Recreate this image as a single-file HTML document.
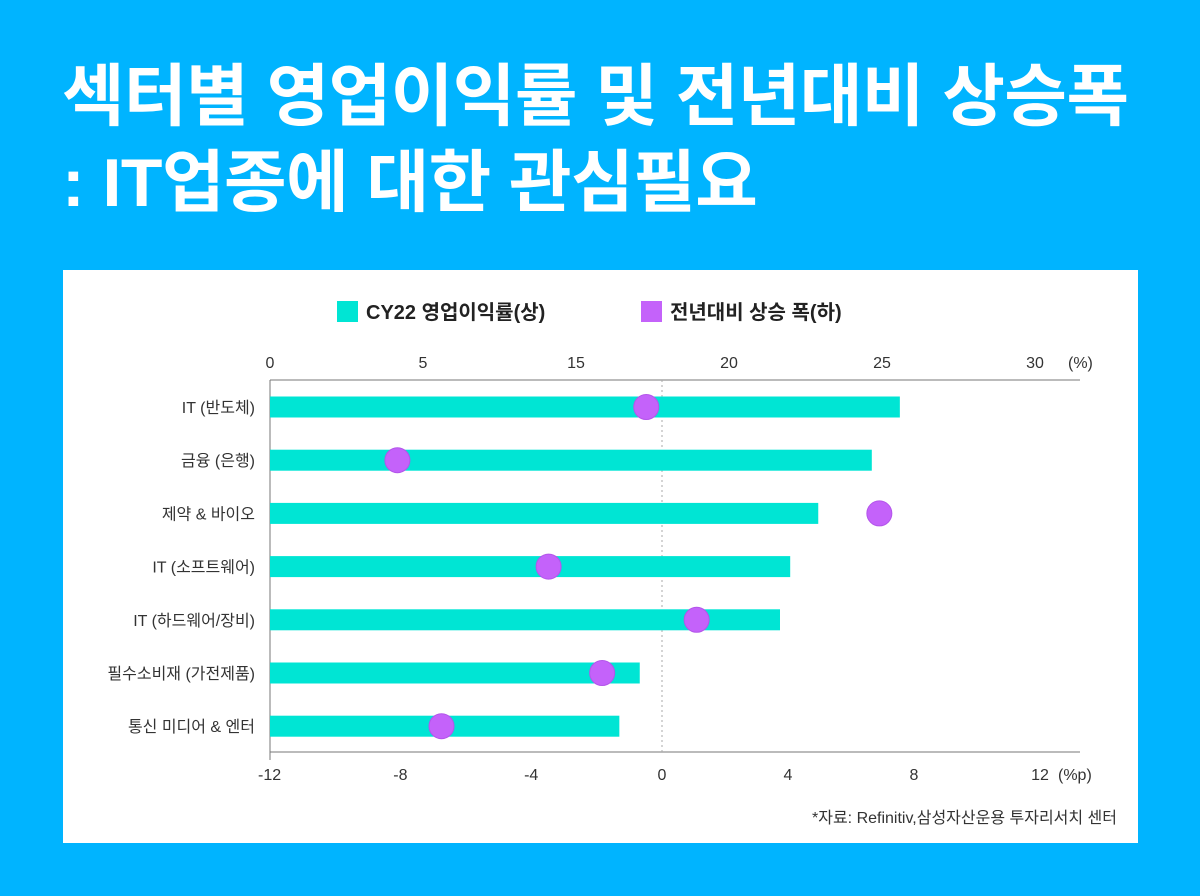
<!DOCTYPE html>
<html><head><meta charset="utf-8"><style>
body{margin:0;width:1200px;height:896px;background:#00b4ff;font-family:"Liberation Sans","Noto Sans CJK KR",sans-serif;overflow:hidden;position:relative}
.title{position:absolute;left:62px;top:54px;color:#fff;font-weight:bold;font-size:68px;line-height:86px;letter-spacing:-0.5px;white-space:nowrap}
.panel{position:absolute;left:63px;top:270px;width:1075px;height:573px;background:#fff}
</style></head><body>
<div class="title">섹터별 영업이익률 및 전년대비 상승폭<br>: IT업종에 대한 관심필요</div>
<div class="panel"></div>
<svg id="chart" width="1200" height="896" style="position:absolute;left:0;top:0" font-family="Liberation Sans, Noto Sans CJK KR, sans-serif">
<g>
<rect x="337" y="301" width="21" height="21" fill="#00e5d4"/>
<text x="366" y="319" font-size="20" font-weight="bold" fill="#222">CY22 영업이익률(상)</text>
<rect x="641" y="301" width="21" height="21" fill="#c462fa"/>
<text x="670" y="319" font-size="20" font-weight="bold" fill="#222">전년대비 상승 폭(하)</text>
</g>
<line x1="270" y1="380" x2="1080" y2="380" stroke="#777"/>
<line x1="270" y1="752" x2="1080" y2="752" stroke="#777"/>
<line x1="270" y1="380" x2="270" y2="760" stroke="#777"/>
<line x1="662" y1="380" x2="662" y2="752" stroke="#aaa" stroke-dasharray="2,3"/>
<text x="1068" y="368" font-size="16" fill="#333">(%)</text>
<text x="1058" y="780" font-size="16" fill="#333">(%p)</text>
<text x="1117" y="823" font-size="16" fill="#333" text-anchor="end">*자료: Refinitiv,삼성자산운용 투자리서치 센터</text>
<g id="g"></g>
</svg>
<script>
const categories=["IT (반도체)","금융 (은행)","제약 & 바이오","IT (소프트웨어)","IT (하드웨어/장비)","필수소비재 (가전제품)","통신 미디어 & 엔터"];
const marginValues=[24.7,23.6,21.5,20.4,20.0,14.5,13.7];
const changeValues=[-0.5,-8.4,6.9,-3.6,1.1,-1.9,-7.0];
const topTickLabels=["0","5","15","20","25","30"];
const bottomTicks=[-12,-8,-4,0,4,8,12];
const NS="http://www.w3.org/2000/svg",g=document.getElementById('g');
const xTop=v=>270+v*25.5, xBot=v=>662+v*31.5, yC=i=>407+i*53.2;
const xBotLabel=v=>v<0?662+v*32.7:662+v*31.5;
function mk(t,a,txt){const e=document.createElementNS(NS,t);for(const k in a)e.setAttribute(k,a[k]);if(txt!=null)e.textContent=txt;g.appendChild(e);return e;}
topTickLabels.forEach((l,i)=>{const e=mk('text',{x:270+i*153,y:368,'font-size':16,fill:'#333','text-anchor':'middle'},l);

});
bottomTicks.forEach(v=>{const e=mk('text',{x:xBotLabel(v),y:780,'font-size':16,fill:'#333','text-anchor':'middle'},String(v));

});
categories.forEach((c,i)=>{const y=yC(i);
const l=mk('text',{x:255,y:y+6,'font-size':16,fill:'#333','text-anchor':'end'},c);


const b=mk('rect',{x:270,y:y-10.5,width:xTop(marginValues[i])-270,height:21,fill:'#00e5d4'});


const d=mk('circle',{cx:xBot(changeValues[i]),cy:y,r:12.5,fill:'#c462fa',stroke:'#b355ea','stroke-width':1});

});
</script>
</body></html>
